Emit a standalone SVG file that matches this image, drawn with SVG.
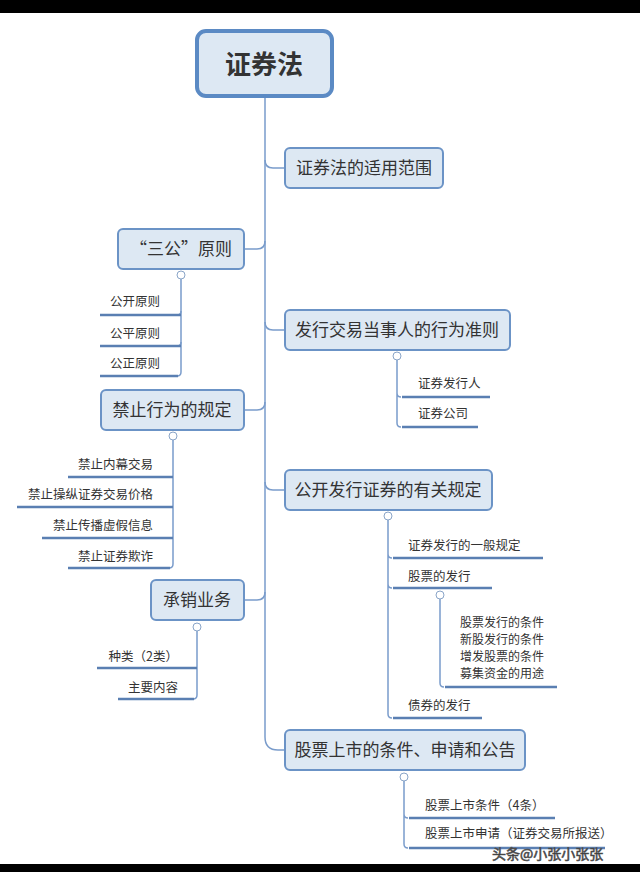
<svg xmlns="http://www.w3.org/2000/svg" width="640" height="872" viewBox="0 0 640 872">
<style>
.n{fill:#dde8f3;stroke:#6b93c6;stroke-width:2}
.t{font-family:"Noto Sans CJK SC","Liberation Sans",sans-serif;fill:#333;}
.nt{font-size:17px;text-anchor:middle}
.lf{font-size:12.5px}
.ml{font-size:12px}
.r{text-anchor:end}
.c{fill:none;stroke:#7a9ccb;stroke-width:1.5}
.u{fill:none;stroke:#5a7fb2;stroke-width:2.5}
.k{fill:#fff;stroke:#8aa5c8;stroke-width:1}
</style>
<rect width="640" height="872" fill="#fff"/>
<rect width="640" height="13" fill="#000"/>
<rect y="864" width="640" height="8" fill="#000"/>
<g id="connectors">
<path class="c" d="M265 96 V737 Q265 750 278 750 H285"/>
<path class="c" d="M265 160 Q265 168 273 168 H285"/>
<path class="c" d="M265 241 Q265 249 257 249 H244"/>
<path class="c" d="M265 322 Q265 330 273 330 H285"/>
<path class="c" d="M265 402 Q265 410 257 410 H244"/>
<path class="c" d="M265 482 Q265 490 273 490 H285"/>
<path class="c" d="M265 592 Q265 600 257 600 H244"/>
<path class="c" d="M181 279 V372 Q181 376 177 376"/>
<path class="c" d="M181 311 Q181 315 177 315 M181 342 Q181 346 177 346"/>
<path class="u" d="M100 315 H181 M100 346 H181 M100 376 H178"/>
<path class="c" d="M173 440 V564 Q173 568 169 568"/>
<path class="u" d="M68 477 H173 M17 507 H173 M42 538 H173 M68 568 H170"/>
<path class="c" d="M197 631 V695 Q197 699 193 699"/>
<path class="u" d="M97 668 H197 M118 699 H194"/>
<path class="c" d="M397 360 V423 Q397 427 401 427 M397 393 Q397 397 401 397"/>
<path class="u" d="M402 397 H490 M402 427 H478"/>
<path class="c" d="M388 520 V714 Q388 718 392 718 M388 554 Q388 558 392 558 M388 584 Q388 588 392 588"/>
<path class="u" d="M393 558 H543 M393 588 H492 M393 718 H482"/>
<path class="c" d="M440 599 V683 Q440 687 444 687"/>
<path class="u" d="M445 687 H557"/>
<path class="c" d="M404 781 V844 Q404 848 408 848 M404 814 Q404 818 408 818"/>
<path class="u" d="M409 818 H555 M409 848 H605"/>
</g>
<g id="root"><rect x="197" y="31" width="135" height="65" rx="9" fill="#dde8f3" stroke="#5b8ac4" stroke-width="4"/><text class="t" x="264" y="74" font-size="26" font-weight="bold" text-anchor="middle" fill="#2c4668">证券法</text></g>
<g id="n1"><rect class="n" x="285" y="148" width="158" height="40" rx="5"/><text class="t nt" x="364" y="174">证券法的适用范围</text></g>
<g id="n2"><rect class="n" x="118" y="229" width="126" height="40" rx="5"/><text class="t nt" x="181" y="255">“三公”原则</text></g>
<g id="n3"><rect class="n" x="285" y="310" width="225" height="40" rx="5"/><text class="t nt" x="397" y="336">发行交易当事人的行为准则</text></g>
<g id="n4"><rect class="n" x="101" y="390" width="143" height="40" rx="5"/><text class="t nt" x="172" y="416">禁止行为的规定</text></g>
<g id="n5"><rect class="n" x="285" y="470" width="207" height="40" rx="5"/><text class="t nt" x="388" y="496">公开发行证券的有关规定</text></g>
<g id="n6"><rect class="n" x="151" y="580" width="93" height="40" rx="5"/><text class="t nt" x="197" y="606">承销业务</text></g>
<g id="n7"><rect class="n" x="285" y="730" width="240" height="40" rx="5"/><text class="t nt" x="405" y="756">股票上市的条件、申请和公告</text></g>
<g id="toggles">
<circle class="k" cx="181" cy="275" r="4"/><circle class="k" cx="173" cy="436" r="4"/><circle class="k" cx="197" cy="627" r="4"/><circle class="k" cx="397" cy="356" r="4"/><circle class="k" cx="388" cy="516" r="4"/><circle class="k" cx="440" cy="595" r="4"/><circle class="k" cx="404" cy="777" r="4"/>
</g>
<g id="leaves">
<text class="t lf r" x="160" y="306">公开原则</text>
<text class="t lf r" x="160" y="338">公平原则</text>
<text class="t lf r" x="160" y="368">公正原则</text>
<text class="t lf r" x="153" y="469">禁止内幕交易</text>
<text class="t lf r" x="153" y="499">禁止操纵证券交易价格</text>
<text class="t lf r" x="153" y="530">禁止传播虚假信息</text>
<text class="t lf r" x="153" y="561">禁止证券欺诈</text>
<text class="t lf r" x="178" y="661">种类（2类）</text>
<text class="t lf r" x="178" y="692">主要内容</text>
<text class="t lf" x="418" y="388">证券发行人</text>
<text class="t lf" x="418" y="418">证券公司</text>
<text class="t lf" x="408" y="550">证券发行的一般规定</text>
<text class="t lf" x="408" y="581">股票的发行</text>
<text class="t ml" x="460" y="627">股票发行的条件</text>
<text class="t ml" x="460" y="644">新股发行的条件</text>
<text class="t ml" x="460" y="661">增发股票的条件</text>
<text class="t ml" x="460" y="678">募集资金的用途</text>
<text class="t lf" x="408" y="710">债券的发行</text>
<text class="t lf" x="425" y="810">股票上市条件（4条）</text>
<text class="t lf" x="425" y="838">股票上市申请（证券交易所报送）</text>
</g>
<text class="t" x="492" y="859" font-size="14" fill="#fff" stroke="#555" stroke-width="0.6">头条@小张小张张</text>
</svg>
